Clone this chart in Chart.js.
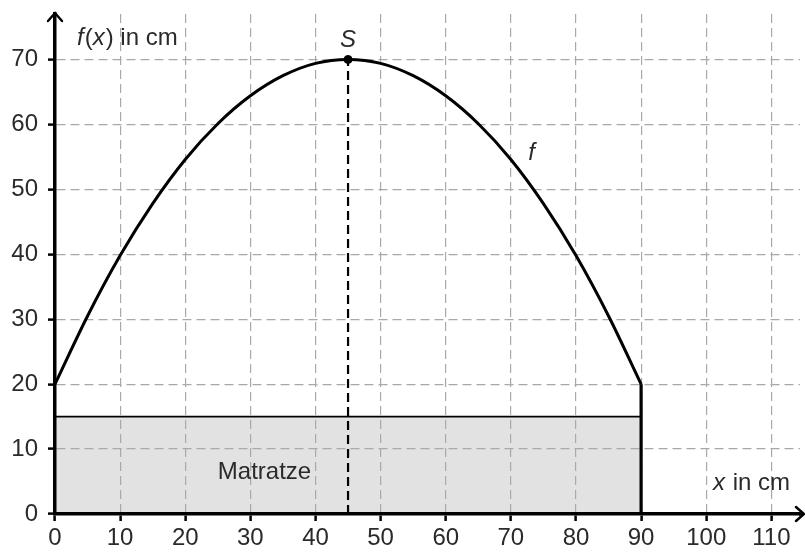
<!DOCTYPE html>
<html>
<head>
<meta charset="utf-8">
<script src="https://cdn.jsdelivr.net/npm/chart.js@4/dist/chart.umd.min.js"></script>
<style>
  body { margin: 0; background: #fff; }
  #wrap { width: 805px; height: 552px; }
</style>
</head>
<body>
<div id="wrap"><canvas id="chart" width="805" height="552"></canvas></div>
<script>
// values (x in cm, f(x) in cm)
const curveX = [0, 5, 10, 15, 20, 25, 30, 35, 40, 45, 50, 55, 60, 65, 70, 75, 80, 85, 90];
const curveY = [20, 30.5, 39.8, 47.8, 54.6, 60.1, 64.4, 67.5, 69.4, 70, 69.4, 67.5, 64.4, 60.1, 54.6, 47.8, 39.8, 30.5, 20];
const mattressX = [0, 90];
const mattressY = [15, 15];
const wallX = [90, 90];
const wallY = [0, 20];
const vertexX = 45;
const vertexY = 70;
const xTicks = [0, 10, 20, 30, 40, 50, 60, 70, 80, 90, 100, 110];
const yTicks = [0, 10, 20, 30, 40, 50, 60, 70];

const FONT = '"Liberation Sans", Arial, sans-serif';
const TEXT = '#2a2a2a';
const GRID = '#a9a9a9';

function pts(xs, ys) {
    return xs.map((x, i) => ({ x: x, y: ys[i] }));
}

// annotations, arrows and italic labels
const extras = {
    id: 'extras',
    afterDraw(chart) {
        const ctx = chart.ctx;
        const xs = chart.scales.x;
        const ys = chart.scales.y;
        const area = chart.chartArea;
        ctx.save();

        // axis arrows (x axis line runs on to the arrow tip)
        ctx.strokeStyle = '#000';
        ctx.lineWidth = 3.5;
        ctx.beginPath();
        ctx.moveTo(area.right - 1, area.bottom);
        ctx.lineTo(803, area.bottom);
        ctx.stroke();
        ctx.lineWidth = 2.4;
        ctx.lineCap = 'round';
        ctx.beginPath();
        ctx.moveTo(area.left - 7, 21);
        ctx.lineTo(area.left, 13);
        ctx.lineTo(area.left + 7, 21);
        ctx.stroke();
        ctx.beginPath();
        ctx.moveTo(796, area.bottom - 7);
        ctx.lineTo(804, area.bottom);
        ctx.lineTo(796, area.bottom + 7);
        ctx.stroke();

        ctx.fillStyle = TEXT;
        ctx.textBaseline = 'alphabetic';
        const it = 'italic 24px ' + FONT;
        const up = '24px ' + FONT;

        // y axis title: f(x) in cm
        let px = area.left + 22;
        const py = 45;
        const parts = [[it, 'f'], [up, '('], [it, 'x'], [up, ') in cm']];
        parts.forEach(p => {
            ctx.font = p[0];
            ctx.fillText(p[1], px, py);
            px += ctx.measureText(p[1]).width + (p[0] === it ? 1 : 0);
        });

        // x axis title: x in cm
        ctx.font = it;
        ctx.fillText('x', 713, 490);
        const w = ctx.measureText('x').width;
        ctx.font = up;
        ctx.fillText(' in cm', 714 + w, 490);

        // vertex label S
        ctx.font = it;
        ctx.textAlign = 'center';
        ctx.fillText('S', xs.getPixelForValue(vertexX), ys.getPixelForValue(vertexY) - 12);

        // curve label f
        ctx.fillText('f', xs.getPixelForValue(73.2), 160);

        // mattress label
        ctx.font = up;
        ctx.textAlign = 'left';
        ctx.fillText('Matratze', xs.getPixelForValue(25), 479);

        ctx.restore();
    }
};

function noPad(s) {
    s.paddingLeft = 0;
    s.paddingRight = 0;
    s.paddingTop = 0;
    s.paddingBottom = 0;
}

new Chart(document.getElementById('chart').getContext('2d'), {
    type: 'line',
    data: {
        datasets: [
            {
                label: 'Matratze',
                data: pts(mattressX, mattressY),
                borderColor: '#000',
                borderWidth: 1.8,
                backgroundColor: '#e2e2e2',
                fill: 'origin',
                pointRadius: 0,
                order: 5
            },
            {
                label: 'Wand',
                data: pts(wallX, wallY),
                borderColor: '#000',
                borderWidth: 3.2,
                pointRadius: 0,
                fill: false,
                order: 4
            },
            {
                label: 'Symmetrieachse',
                data: pts([vertexX, vertexX], [0, vertexY]),
                borderColor: '#000',
                borderWidth: 2.2,
                borderDash: [9, 5],
                pointRadius: 0,
                fill: false,
                order: 3
            },
            {
                label: 'f',
                data: pts(curveX, curveY),
                borderColor: '#000',
                borderWidth: 3,
                cubicInterpolationMode: 'monotone',
                pointRadius: 0,
                fill: false,
                order: 2
            },
            {
                label: 'S',
                data: [{ x: vertexX, y: vertexY }],
                pointRadius: 4,
                pointBackgroundColor: '#000',
                pointBorderColor: '#000',
                showLine: false,
                order: 1
            }
        ]
    },
    options: {
        responsive: false,
        animation: false,
        layout: { padding: { left: 0, right: 1, top: 14, bottom: 0 } },
        plugins: {
            legend: { display: false },
            tooltip: { enabled: false },
            filler: { drawTime: 'beforeDraw' }
        },
        scales: {
            x: {
                type: 'linear',
                min: 0,
                max: 114.4,
                afterBuildTicks: s => { s.ticks = xTicks.map(v => ({ value: v })); },
                afterFit: s => { s.height = 38; noPad(s); },
                ticks: {
                    color: TEXT,
                    font: { family: FONT, size: 24 },
                    padding: 3,
                    maxRotation: 0,
                    autoSkip: false
                },
                grid: {
                    color: c => (c.tick && c.tick.value === 0 ? 'rgba(0,0,0,0)' : GRID),
                    lineWidth: 1.2,
                    tickColor: '#000',
                    tickWidth: 2.5,
                    tickLength: 7,
                    tickBorderDash: []
                },
                border: { display: true, color: '#000', width: 3.5, dash: [9, 5] }
            },
            y: {
                type: 'linear',
                min: 0,
                max: 77,
                afterBuildTicks: s => { s.ticks = yTicks.map(v => ({ value: v })); },
                afterFit: s => { s.width = 55; noPad(s); },
                ticks: {
                    color: TEXT,
                    font: { family: FONT, size: 24 },
                    padding: 10
                },
                grid: {
                    color: c => (c.tick && c.tick.value === 0 ? 'rgba(0,0,0,0)' : GRID),
                    lineWidth: 1.2,
                    tickColor: '#000',
                    tickWidth: 2.5,
                    tickLength: 7,
                    tickBorderDash: []
                },
                border: { display: true, color: '#000', width: 3.5, dash: [9, 5] }
            }
        }
    },
    plugins: [extras]
});
</script>
</body>
</html>
